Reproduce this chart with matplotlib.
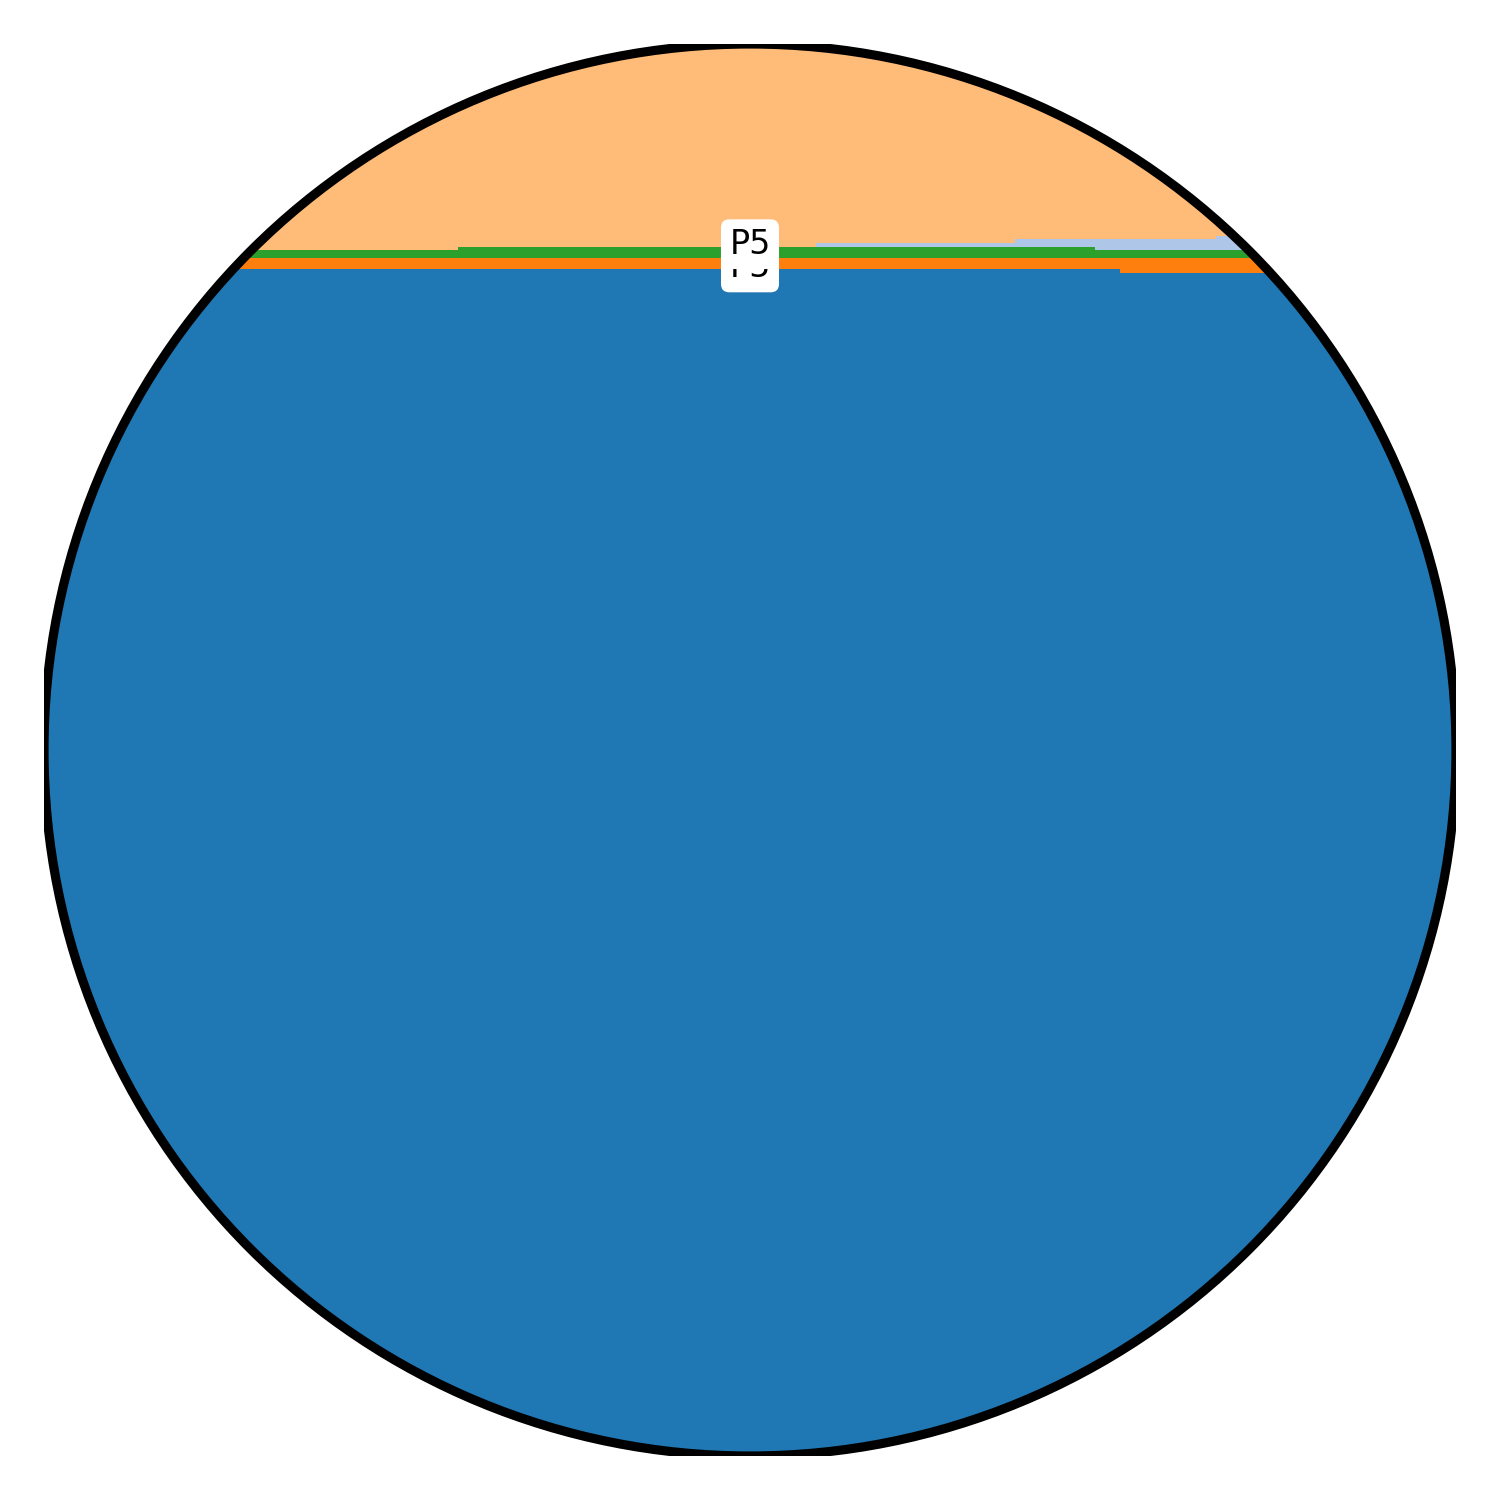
import numpy as np
import matplotlib
matplotlib.use("Agg")
import matplotlib.pyplot as plt
from matplotlib.patches import Circle

# step positions (x) and stacked shares (%) per segment
x = [0, 29.3, 54.7, 68.8, 74.4, 76.2, 83.0, 100]
blue = [84.06, 84.06, 84.06, 84.06, 84.06, 83.78, 83.78, 83.78]
orange = [0.80, 0.80, 0.80, 0.80, 0.80, 1.08, 1.08, 1.08]
green = [0.545, 0.758, 0.758, 0.758, 0.545, 0.545, 0.545, 0.545]
light_blue = [0, 0, 0.28, 0.57, 0.78, 0.78, 1.01, 1.01]
light_orange = [100 - b - o - g - l for b, o, g, l in zip(blue, orange, green, light_blue)]

colors = ["#1f77b4", "#ff7f0e", "#2ca02c", "#aec7e8", "#ffbb78"]
labels = ["P5", "P5"]
label_y = [83.5, 85.15]

fig = plt.figure(figsize=(5, 5), dpi=300)
ax = fig.add_axes([44 / 1500, 44 / 1500, 1412 / 1500, 1412 / 1500])
ax.set_xlim(0, 100)
ax.set_ylim(0, 100)
ax.axis("off")

polys = ax.stackplot(x, blue, orange, green, light_blue, light_orange,
                     colors=colors, step="post", linewidth=0)

clip = Circle((0.5, 0.5), 0.5, transform=ax.transAxes)
for p in polys:
    p.set_clip_path(clip)

ring = Circle((0.5, 0.5), 0.5, transform=ax.transAxes, fc="none",
              ec="black", lw=2.2, zorder=5)
ax.add_patch(ring)

for i, (lab, yy) in enumerate(zip(labels, label_y)):
    ax.text(50, yy, lab, ha="center", va="baseline", fontsize=8, zorder=6 + i,
            bbox=dict(boxstyle="round,pad=0.25", fc="white", ec="none"))

fig.savefig("out.png", dpi=300)
